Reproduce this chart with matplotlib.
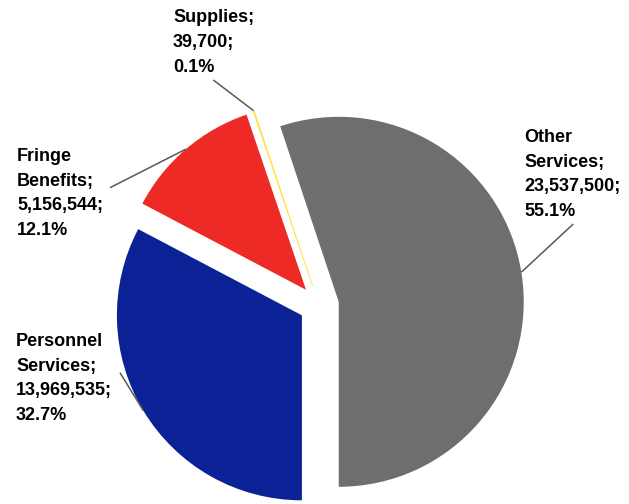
import numpy as np
import matplotlib
matplotlib.use("Agg")
import matplotlib.pyplot as plt

# Budget breakdown
categories = ["Personnel\nServices", "Fringe\nBenefits", "Supplies", "Other\nServices"]
amounts = [13969535, 5156544, 39700, 23537500]
percents = ["32.7%", "12.1%", "0.1%", "55.1%"]
colors = ["#0B2297", "#EE2A27", "#FFE34A", "#6E6E6E"]

W, H, DPI = 629, 504, 100
CX, CY, R_PX = 319, 305, 185  # pie centre (pixels from top-left) and radius in pixels

fig = plt.figure(figsize=(W / DPI, H / DPI), dpi=DPI)
ax = fig.add_axes([0, 0, 1, 1])

wedges, _ = ax.pie(amounts, colors=colors, startangle=270, counterclock=False,
                   explode=[0.108] * len(amounts), radius=1.0,
                   wedgeprops=dict(linewidth=0))

# the sliver for Supplies gets a hairline edge in its own colour so it stays visible
wedges[2].set_edgecolor(colors[2])
wedges[2].set_linewidth(0.6)

ax.set_xlim(-CX / R_PX, (W - CX) / R_PX)
ax.set_ylim(-(H - CY) / R_PX, CY / R_PX)
ax.set_aspect("equal", adjustable="box")
ax.axis("off")


def px(x, y):
    """pixel position (from top-left) to data coordinates"""
    return (x - CX) / R_PX, (CY - y) / R_PX


# label blocks: left x and first baseline (pixels), plus leader-line start
label_pos = [(16, 346), (17, 161), (173, 22.5), (524, 142)]
leader_start = [(120, 372.7), (110, 187.7), (213.3, 80), (573.3, 224)]
line_pitch = 24.7

for w, cat, amt, pct, (lx, ly), (sx, sy) in zip(wedges, categories, amounts, percents,
                                                 label_pos, leader_start):
    lines = cat.split("\n")
    lines[-1] = lines[-1] + ";"
    lines += [f"{amt:,};", pct]
    for i, t in enumerate(lines):
        x, y = px(lx, ly + i * line_pitch)
        ax.text(x, y, t, ha="left", va="baseline", fontsize=13,
                fontweight="bold", family="Liberation Sans", color="#000000")
    mid = np.deg2rad((w.theta1 + w.theta2) / 2)
    ex, ey = w.center[0] + w.r * np.cos(mid), w.center[1] + w.r * np.sin(mid)
    x0, y0 = px(sx, sy)
    ax.plot([x0, ex], [y0, ey], color="#595959", lw=1.1, solid_capstyle="butt")

fig.savefig("out.png", dpi=DPI)
